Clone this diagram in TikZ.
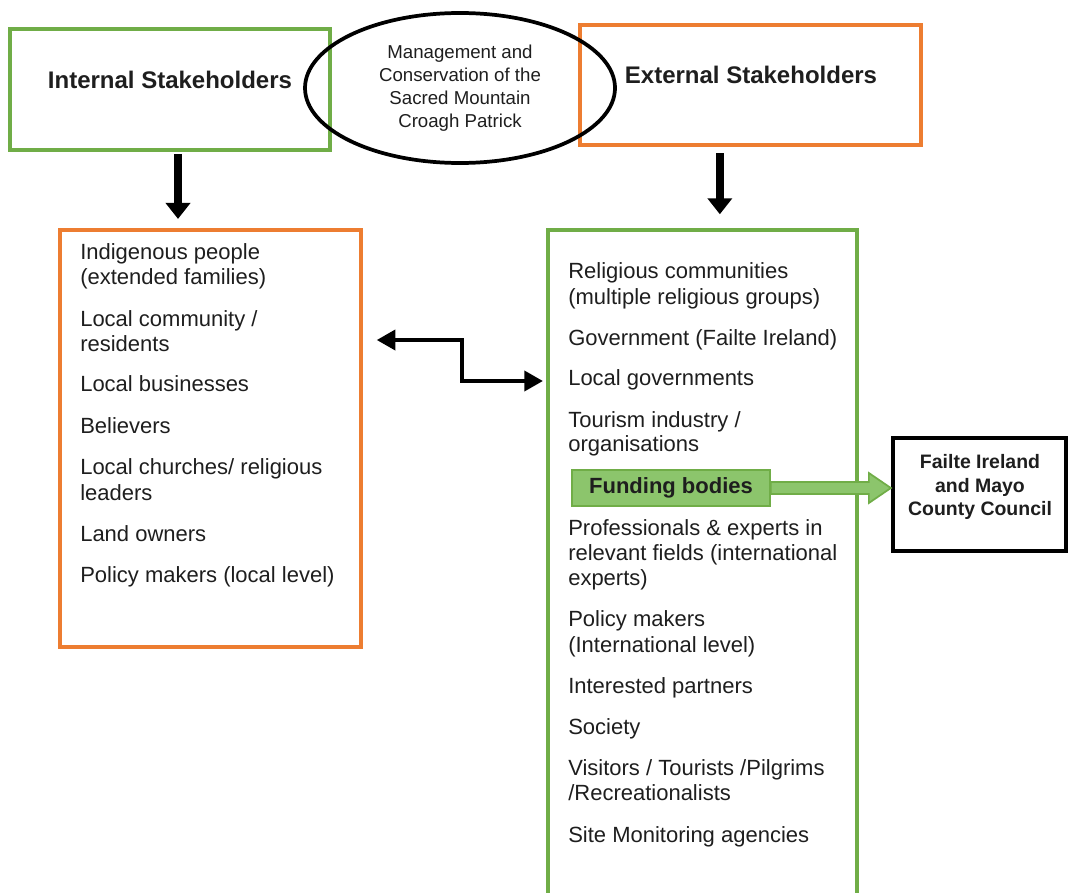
\documentclass[tikz,border=0pt]{standalone}
\usepackage{fontspec}
\setmainfont{Liberation Sans}
\usetikzlibrary{arrows.meta,shapes.geometric}
\definecolor{ogreen}{HTML}{70AD47}
\definecolor{oorange}{HTML}{ED7D31}
\definecolor{lgreen}{HTML}{8CC56C}
\definecolor{txt}{HTML}{1E1E1E}
\begin{document}
\begin{tikzpicture}[x=0.75pt,y=-0.75pt,
  gbox/.style={draw=ogreen,line width=2.6pt,inner sep=0pt},
  obox/.style={draw=oorange,line width=2.6pt,inner sep=0pt},
  kbox/.style={draw=black,line width=3pt,inner sep=0pt},
  head/.style={font=\fontsize{18}{21}\selectfont\bfseries,text=txt,inner sep=0pt},
  item/.style={font=\fontsize{16.5}{19}\selectfont,text=txt,inner sep=0pt,anchor=base west},
  downarrow/.style={line width=5.5pt,-{Triangle[length=12pt,width=18pt]}},
  elbowarrow/.style={line width=3pt,{Triangle[length=14pt,width=15pt]}-{Triangle[length=14pt,width=15pt]}},
  fundarrow/.style={draw=ogreen,fill=lgreen,line width=1.3pt,line join=miter}]
\useasboundingbox (0,0) rectangle (1069,892);

% top boxes
\node[gbox,minimum width=240pt,minimum height=90.75pt] (int) at (170,89.5) {};
\node[head] (intT) at (170,80) {Internal Stakeholders};
\node[obox,minimum width=255.75pt,minimum height=90pt] (ext) at (750.5,85) {};
\node[head] (extT) at (751,75) {External Stakeholders};
\node[draw=black,line width=2.8pt,ellipse,minimum width=232.5pt,minimum height=112.5pt,inner sep=0pt,
      align=center,font=\fontsize{14}{17.25}\selectfont,text=txt] (goal) at (460,88)
  {Management and\\Conservation of the\\Sacred Mountain\\Croagh Patrick};

% lists
\node[obox,minimum width=225.75pt,minimum height=312.75pt] (lbox) at (210.5,438.5) {};
\node[gbox,minimum width=231.75pt,minimum height=510pt] (rbox) at (702.5,570) {};

\foreach \n/\y/\t in {l1/252/{Indigenous people}, l2/277/{(extended families)},
  l3/319/{Local community /}, l4/344/{residents}, l5/384/{Local businesses},
  l6/426/{Believers}, l7/467/{Local churches/ religious}, l8/493/{leaders},
  l9/534/{Land owners}, l10/575/{Policy makers (local level)}}
  \node[item] (\n) at (80,\y+7.5) {\t};

\foreach \n/\y/\t in {r1/271/{Religious communities}, r2/297/{(multiple religious groups)},
  r3/338/{Government (Failte Ireland)}, r4/378/{Local governments},
  r5/420/{Tourism industry /}, r6/444/{organisations},
  r7/528/{Professionals \& experts in}, r8/553/{relevant fields (international},
  r9/578/{experts)}, r10/619/{Policy makers}, r11/645/{(International level)},
  r12/686/{Interested partners}, r13/727/{Society},
  r14/768/{Visitors / Tourists /Pilgrims}, r15/793/{/Recreationalists},
  r16/835/{Site Monitoring agencies}}
  \node[item] (\n) at (568,\y+7.5) {\t};

% funding
\node[draw=ogreen,fill=lgreen,line width=1.3pt,minimum width=148.5pt,minimum height=27pt,inner sep=0pt,
      font=\fontsize{16.5}{19}\selectfont\bfseries,text=txt] (fund) at (671,488) {Funding bodies};
\node[kbox,minimum width=129.75pt,minimum height=84.75pt] (fail) at (979.5,494.5) {};
\node[align=center,font=\fontsize{14.6}{17.6}\selectfont\bfseries,text=txt,inner sep=0pt] (failT) at (980,487)
  {Failte Ireland\\and Mayo\\County Council};

% connectors
\draw[downarrow,shorten <=2pt,shorten >=7pt] ([xshift=6pt]int.south) -- ([xshift=6pt]int.south |- lbox.north);
\draw[downarrow,shorten <=5pt,shorten >=10.5pt] ([xshift=-23pt]ext.south) -- ([xshift=-23pt]ext.south |- rbox.north);

\coordinate (ea) at ([xshift=10.5pt]lbox.east |- 0,340);
\coordinate (eb) at ([xshift=-2.5pt]rbox.west |- 0,381);
\coordinate (em) at (462,360);
\draw[elbowarrow] (ea) -| (em) |- (eb);

\draw[fundarrow] (fund.east) ++(0,-6) -- ++(98,0) -- ++(0,-9) -- ++(22,15) -- ++(-22,15) -- ++(0,-9) -- ++(-98,0) -- cycle;
\end{tikzpicture}
\end{document}
